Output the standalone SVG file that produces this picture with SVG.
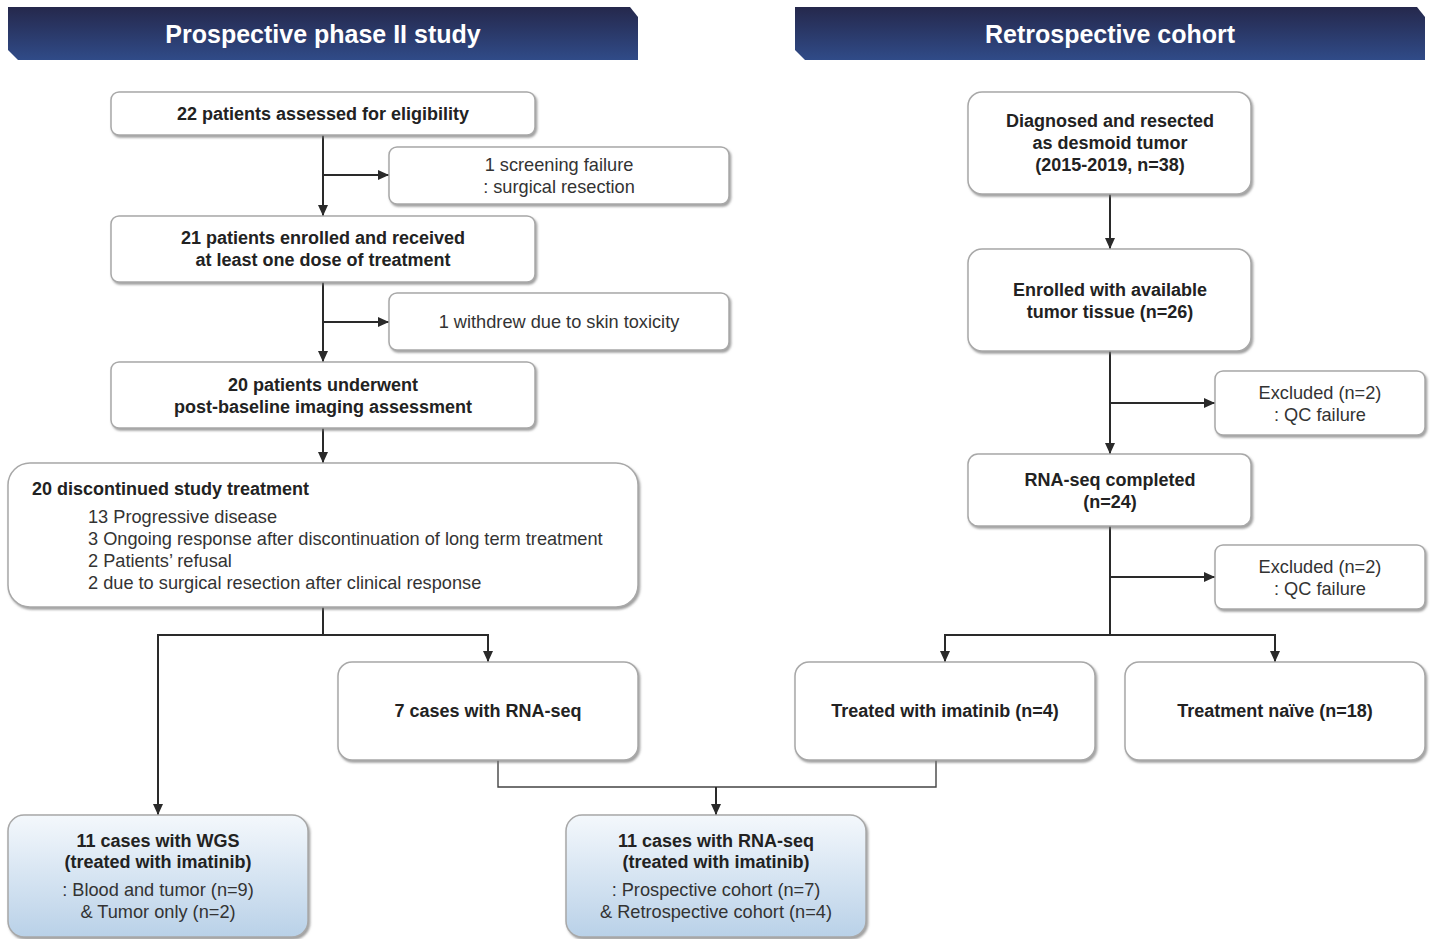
<svg xmlns="http://www.w3.org/2000/svg" width="1430" height="939" viewBox="0 0 1430 939">
<style>
  .box { fill: #ffffff; stroke: #a8a8a8; stroke-width: 1.5; filter: url(#sh); }
  .blue { fill: url(#blueg); stroke: #a8a8a8; stroke-width: 1.5; filter: url(#sh); }
  .b { font-family: "Liberation Sans", Arial, sans-serif; font-weight: bold; font-size: 18px; fill: #222; text-anchor: middle; }
  .bs { font-family: "Liberation Sans", Arial, sans-serif; font-weight: bold; font-size: 18px; fill: #222; text-anchor: start; }
  .r { font-family: "Liberation Sans", Arial, sans-serif; font-size: 18.2px; fill: #333; text-anchor: middle; }
  .ra { font-family: "Liberation Sans", Arial, sans-serif; font-size: 18.2px; fill: #333; }
  .hd { font-family: "Liberation Sans", Arial, sans-serif; font-weight: bold; font-size: 25px; fill: #ffffff; text-anchor: middle; }
  .ln { fill: none; stroke: #2a2a2a; stroke-width: 2; }
  .ar { fill: none; stroke: #2a2a2a; stroke-width: 2; marker-end: url(#arr); }
  .thin { fill: none; stroke: #444; stroke-width: 1.4; }
</style>
<defs>
  <linearGradient id="hdg" x1="0" y1="0" x2="0" y2="1">
    <stop offset="0" stop-color="#25284c"/>
    <stop offset="1" stop-color="#304b88"/>
  </linearGradient>
  <linearGradient id="blueg" x1="0" y1="0" x2="0" y2="1">
    <stop offset="0" stop-color="#f4f8fc"/>
    <stop offset="1" stop-color="#b9d1e8"/>
  </linearGradient>
  <filter id="sh" x="-5%" y="-5%" width="115%" height="120%">
    <feDropShadow dx="1.5" dy="2" stdDeviation="1.2" flood-color="#777" flood-opacity="0.7"/>
  </filter>
  <marker id="arr" markerUnits="userSpaceOnUse" markerWidth="12" markerHeight="10" refX="11" refY="5" orient="auto">
    <path d="M0,0 L11,5 L0,10 Z" fill="#2a2a2a"/>
  </marker>
</defs>

<g id="header-left">
  <polygon points="8,7 630,7 638,17 638,60 18,60 8,50" fill="url(#hdg)"/>
  <text class="hd" x="323" y="43">Prospective phase II study</text>
</g>
<g id="header-right">
  <polygon points="795,7 1417,7 1425,17 1425,60 805,60 795,50" fill="url(#hdg)"/>
  <text class="hd" x="1110" y="43">Retrospective cohort</text>
</g>

<g id="connectors">
  <path class="ar" d="M323,135 V216"/>
  <path class="ar" d="M323,175 H389"/>
  <path class="ar" d="M323,282 V362"/>
  <path class="ar" d="M323,322 H389"/>
  <path class="ar" d="M323,428 V463"/>
  <path class="ln" d="M323,607 V635"/>
  <path class="ln" d="M158,635 H488"/>
  <path class="ar" d="M158,634 V815"/>
  <path class="ar" d="M488,634 V662"/>
  <path class="ar" d="M1110,194 V249"/>
  <path class="ar" d="M1110,351 V454"/>
  <path class="ar" d="M1110,403 H1215"/>
  <path class="ln" d="M1110,526 V635"/>
  <path class="ar" d="M1110,577 H1215"/>
  <path class="ln" d="M945,635 H1275"/>
  <path class="ar" d="M945,634 V662"/>
  <path class="ar" d="M1275,634 V662"/>
  <path class="thin" d="M498,760 V787 H936 V760"/>
  <path class="ar" d="M716,787 V815"/>
</g>

<g id="n1">
  <rect class="box" x="111" y="92" width="424" height="43" rx="8"/>
  <text class="b" x="323" y="120">22 patients assessed for eligibility</text>
</g>
<g id="e1">
  <rect class="box" x="389" y="147" width="340" height="57" rx="8"/>
  <text class="r" x="559" y="171">1 screening failure</text>
  <text class="r" x="559" y="193">: surgical resection</text>
</g>
<g id="n2">
  <rect class="box" x="111" y="216" width="424" height="66" rx="8"/>
  <text class="b" x="323" y="244">21 patients enrolled and received</text>
  <text class="b" x="323" y="266">at least one dose of treatment</text>
</g>
<g id="e2">
  <rect class="box" x="389" y="293" width="340" height="57" rx="8"/>
  <text class="r" x="559" y="328">1 withdrew due to skin toxicity</text>
</g>
<g id="n3">
  <rect class="box" x="111" y="362" width="424" height="66" rx="8"/>
  <text class="b" x="323" y="391">20 patients underwent</text>
  <text class="b" x="323" y="413">post-baseline imaging assessment</text>
</g>
<g id="n4">
  <rect class="box" x="8" y="463" width="630" height="144" rx="22"/>
  <text class="bs" x="32" y="495">20 discontinued study treatment</text>
  <text class="ra" x="88" y="523">13 Progressive disease</text>
  <text class="ra" x="88" y="545">3 Ongoing response after discontinuation of long term treatment</text>
  <text class="ra" x="88" y="567">2 Patients’ refusal</text>
  <text class="ra" x="88" y="589">2 due to surgical resection after clinical response</text>
</g>
<g id="n5">
  <rect class="box" x="338" y="662" width="300" height="98" rx="14"/>
  <text class="b" x="488" y="717">7 cases with RNA-seq</text>
</g>
<g id="n6">
  <rect class="blue" x="8" y="815" width="300" height="122" rx="16"/>
  <text class="b" x="158" y="847">11 cases with WGS</text>
  <text class="b" x="158" y="868">(treated with imatinib)</text>
  <text class="r" x="158" y="896">: Blood and tumor (n=9)</text>
  <text class="r" x="158" y="918">&amp; Tumor only (n=2)</text>
</g>
<g id="n7">
  <rect class="blue" x="566" y="815" width="300" height="122" rx="16"/>
  <text class="b" x="716" y="847">11 cases with RNA-seq</text>
  <text class="b" x="716" y="868">(treated with imatinib)</text>
  <text class="r" x="716" y="896">: Prospective cohort (n=7)</text>
  <text class="r" x="716" y="918">&amp; Retrospective cohort (n=4)</text>
</g>

<g id="r1">
  <rect class="box" x="968" y="92" width="283" height="102" rx="14"/>
  <text class="b" x="1110" y="127">Diagnosed and resected</text>
  <text class="b" x="1110" y="149">as desmoid tumor</text>
  <text class="b" x="1110" y="171">(2015-2019, n=38)</text>
</g>
<g id="r2">
  <rect class="box" x="968" y="249" width="283" height="102" rx="14"/>
  <text class="b" x="1110" y="296">Enrolled with available</text>
  <text class="b" x="1110" y="318">tumor tissue (n=26)</text>
</g>
<g id="re1">
  <rect class="box" x="1215" y="371" width="210" height="64" rx="8"/>
  <text class="r" x="1320" y="399">Excluded (n=2)</text>
  <text class="r" x="1320" y="421">: QC failure</text>
</g>
<g id="r3">
  <rect class="box" x="968" y="454" width="283" height="72" rx="10"/>
  <text class="b" x="1110" y="486">RNA-seq completed</text>
  <text class="b" x="1110" y="508">(n=24)</text>
</g>
<g id="re2">
  <rect class="box" x="1215" y="545" width="210" height="64" rx="8"/>
  <text class="r" x="1320" y="573">Excluded (n=2)</text>
  <text class="r" x="1320" y="595">: QC failure</text>
</g>
<g id="r4">
  <rect class="box" x="795" y="662" width="300" height="98" rx="14"/>
  <text class="b" x="945" y="717">Treated with imatinib (n=4)</text>
</g>
<g id="r5">
  <rect class="box" x="1125" y="662" width="300" height="98" rx="14"/>
  <text class="b" x="1275" y="717">Treatment naïve (n=18)</text>
</g>
</svg>
